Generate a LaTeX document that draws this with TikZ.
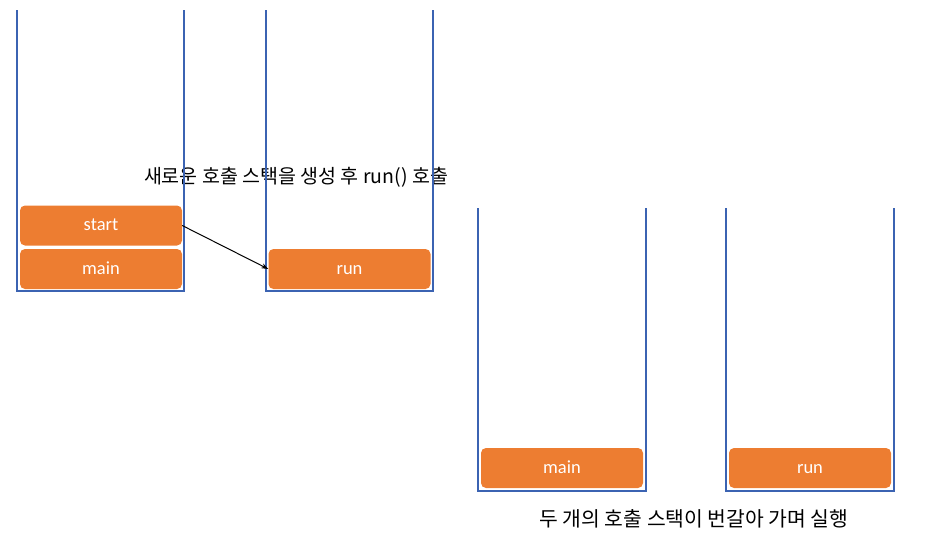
\documentclass[tikz,border=0pt]{standalone}
\usepackage{fontspec}
\setmainfont{Carlito}
\newfontfamily\kr{Noto Sans CJK KR}
\usetikzlibrary{arrows.meta}
\definecolor{stackblue}{RGB}{59,99,178}
\definecolor{frameorange}{RGB}{237,125,49}
\tikzset{
  stackline/.style={draw=stackblue, line width=1.6pt},
  frame/.style={fill=frameorange, draw=none, rounded corners=5pt, text=white, font=\fontsize{18.5}{20}\selectfont, minimum width=162pt, minimum height=40pt, inner sep=0pt, text height=12pt, text depth=2pt},
  lbl/.style={font=\kr\fontsize{19.5}{22}\selectfont, text=black, inner sep=0pt},
  callarrow/.style={draw=black, line width=1pt, -{Stealth[length=7pt,width=5pt]}}
}
\begin{document}
\begin{tikzpicture}[x=1pt,y=-1pt]
\useasboundingbox (0,0) rectangle (943,541);
% labels
\node[lbl] (l1) at (296,177) {새로운 호출 스택을 생성 후 run() 호출};
\node[lbl, font=\kr\fontsize{20.4}{22}\selectfont] (l2) at (694,519) {두 개의 호출 스택이 번갈아 가며 실행};
% stacks
\draw[stackline] (17,10) -- (17,291) -- (184,291) -- (184,10);
\draw[stackline] (266,10) -- (266,291) -- (433,291) -- (433,10);
\draw[stackline] (478,208) -- (478,491) -- (646,491) -- (646,208);
\draw[stackline] (726,208) -- (726,491) -- (894,491) -- (894,208);
% frames
\node[frame] (start) at (101,225.5) {start};
\node[frame] (main1) at (101,269) {main};
\node[frame] (run1) at (349.5,269) {run};
\node[frame] (main2) at (562,468) {main};
\node[frame] (run2) at (810,468) {run};
% arrow
\draw[callarrow] (start.east) -- (run1.west);
\end{tikzpicture}
\end{document}
